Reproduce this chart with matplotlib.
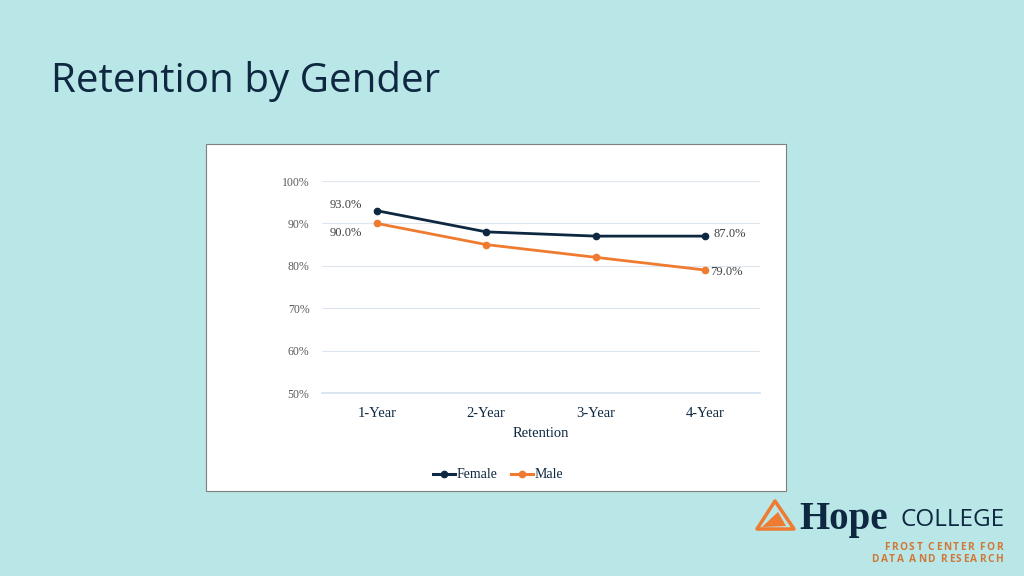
import matplotlib.pyplot as plt
from matplotlib.patches import Rectangle, Polygon

categories = ["1-Year", "2-Year", "3-Year", "4-Year"]
female = [93.0, 88.0, 87.0, 87.0]
male = [90.0, 85.0, 82.0, 79.0]
yticks = [50, 60, 70, 80, 90, 100]

BG = "#b9e6e6"
NAVY = "#0e2841"
ORANGE = "#ee7b30"
GRAY = "#595959"
SERIF = ["Liberation Serif", "DejaVu Serif"]
SANS = ["Open Sans", "DejaVu Sans"]

W, H = 1024, 576
fig = plt.figure(figsize=(W / 100, H / 100), dpi=100, facecolor=BG)

def fx(px):
    return px / W

def fy(py):
    return 1 - py / H

# title
fig.text(fx(51), fy(82), "Retention by Gender", fontsize=29, color=NAVY,
         family=SANS, va="center", ha="left")

# white chart box
fig.patches.append(Rectangle((fx(206), fy(491)), fx(786) - fx(206), fy(144) - fy(491),
                             transform=fig.transFigure, facecolor="white",
                             edgecolor="#7f7f7f", linewidth=0.8, zorder=-1))

ax = fig.add_axes([fx(322), fy(393), fx(760) - fx(322), fy(181) - fy(393)])
ax.set_zorder(2)
ax.set_facecolor("none")
x = list(range(len(categories)))
ax.plot(x, female, color=NAVY, lw=2, marker="o", ms=4.5, label="Female", zorder=3)
ax.plot(x, male, color=ORANGE, lw=2, marker="o", ms=4.5, label="Male", zorder=3)
ax.set_xlim(-0.5, 3.5)
ax.set_ylim(50, 100)
ax.set_yticks(yticks)
ax.set_yticklabels([f"{v}%" for v in yticks], family=SERIF, fontsize=8.5, color=GRAY)
ax.set_xticks(x)
ax.set_xticklabels(categories, family=SERIF, fontsize=10.5, color=NAVY)
ax.tick_params(length=0, pad=10)
ax.tick_params(axis="y", pad=9)
ax.grid(axis="y", color="#dde5ee", lw=0.8)
ax.axhline(50, color="#d3e2f0", lw=1.2, clip_on=False, zorder=1)
for s in ax.spines.values():
    s.set_visible(False)
ax.set_xlabel("Retention", family=SERIF, fontsize=10.5, color=NAVY, labelpad=5)

kw = dict(textcoords="offset pixels", family=SERIF, fontsize=9, color="#404040",
          va="center")
ax.annotate(f"{female[0]:.1f}%", (0, female[0]), xytext=(-31, 6), ha="center", **kw)
ax.annotate(f"{male[0]:.1f}%", (0, male[0]), xytext=(-31, -10), ha="center", **kw)
ax.annotate(f"{female[-1]:.1f}%", (3, female[-1]), xytext=(8, 2), ha="left", **kw)
ax.annotate(f"{male[-1]:.1f}%", (3, male[-1]), xytext=(5, -2), ha="left", **kw)

leg = fig.legend(loc="center", bbox_to_anchor=(fx(498), fy(475)), ncol=2, frameon=False,
                 prop={"family": SERIF, "size": 10}, handlelength=1.6,
                 handletextpad=0.1, columnspacing=1.0)
for t in leg.get_texts():
    t.set_color(NAVY)
for h in leg.legend_handles:
    h.set_linewidth(2.2)

# logo
tri = Polygon([(fx(757), fy(529)), (fx(775), fy(501)), (fx(794), fy(529))], closed=True,
              transform=fig.transFigure, facecolor="none", edgecolor=ORANGE, lw=2.5,
              joinstyle="round")
fig.patches.append(tri)
fig.patches.append(Polygon([(fx(762), fy(527)), (fx(778), fy(512)), (fx(786), fy(526))],
                           closed=True, transform=fig.transFigure, facecolor=ORANGE,
                           edgecolor="none"))
fig.text(fx(799), fy(519), "Hope", fontsize=28, fontweight="bold", color=NAVY,
         family=SERIF, va="center", ha="left")
fig.text(fx(1005), fy(520), "COLLEGE", fontsize=17.5, color=NAVY,
         family=SANS, va="center", ha="right")

renderer = fig.canvas.get_renderer()

def tracked(s, x_right, y, size, track):
    texts = [fig.text(0, fy(y), ch, fontsize=size, fontweight="bold", color="#d0783a",
                      family=SANS, va="center", ha="left") for ch in s]
    widths = [t.get_window_extent(renderer).width if ch != " " else size * 0.3
              for t, ch in zip(texts, s)]
    total = sum(widths) + track * (len(s) - 1)
    pos = x_right - total
    for t, w in zip(texts, widths):
        t.set_x(fx(pos))
        pos += w + track

tracked("FROST CENTER FOR", 1003, 548, 7.3, 1.6)
tracked("DATA AND RESEARCH", 1003, 560, 7.3, 1.6)

fig.savefig("out.png", dpi=100, facecolor=BG)
